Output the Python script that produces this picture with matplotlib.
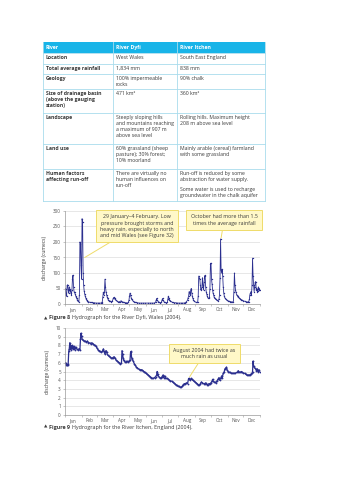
import matplotlib.pyplot as plt
from matplotlib.patches import Rectangle

plt.rcParams['font.family'] = ['Open Sans', 'DejaVu Sans']

# ---- table contents ----
table_header = ['River', 'River Dyfi', 'River Itchen']
row_labels = ['Location', 'Total average rainfall', 'Geology',
              'Size of drainage basin\n(above the gauging\nstation)',
              'Landscape', 'Land use', 'Human factors\naffecting run-off']
dyfi_facts = ['West Wales', '1,834 mm', '100% impermeable\nrocks', '471 km²',
              'Steeply sloping hills\nand mountains reaching\na maximum of 907 m\nabove sea level',
              '60% grassland (sheep\npasture); 30% forest;\n10% moorland',
              'There are virtually no\nhuman influences on\nrun-off']
itchen_facts = ['South East England', '838 mm', '90% chalk', '360 km²',
                'Rolling hills. Maximum height\n208 m above sea level',
                'Mainly arable (cereal) farmland\nwith some grassland',
                'Run-off is reduced by some\nabstraction for water supply.']
itchen_extra = 'Some water is used to recharge\ngroundwater in the chalk aquifer'

# ---- hydrograph data (day of year, discharge in cumecs) ----
dyfi_day = [1, 2, 3, 4, 5, 6, 7, 8, 9, 10, 11, 12, 13, 14, 15, 16, 17, 18, 19, 20,
            21, 22, 23, 24, 25, 26, 27, 28, 29, 30, 31, 32, 33, 34, 35, 36, 37, 38, 39, 40,
            41, 42, 43, 44, 46, 48, 50, 52, 55, 58, 61, 64, 67, 69, 70, 71, 72, 73, 74, 75,
            76, 77, 78, 79, 80, 81, 83, 85, 87, 89, 91, 92, 93, 94, 95, 97, 99, 101, 103, 105,
            106, 107, 109, 111, 113, 115, 117, 119, 120, 121, 122, 123, 124, 125, 127, 129, 131, 133, 136, 139,
            143, 147, 151, 155, 159, 163, 167, 170, 171, 172, 173, 175, 177, 179, 181, 182, 183, 184, 186, 188,
            190, 192, 193, 194, 195, 196, 198, 200, 202, 205, 208, 211, 214, 217, 220, 223, 226, 228, 230, 231,
            232, 233, 234, 235, 236, 237, 238, 239, 240, 241, 243, 245, 247, 249, 250, 251, 252, 253, 254, 255,
            256, 257, 258, 259, 260, 261, 262, 263, 264, 265, 266, 267, 268, 270, 271, 272, 273, 274, 275, 276,
            277, 278, 279, 280, 281, 283, 285, 287, 289, 290, 291, 292, 293, 294, 295, 296, 297, 298, 299, 300,
            302, 304, 306, 308, 310, 312, 314, 316, 317, 318, 319, 320, 321, 322, 323, 324, 325, 327, 329, 331,
            333, 335, 337, 339, 341, 343, 345, 346, 347, 348, 349, 350, 351, 352, 353, 354, 355, 356, 357, 358,
            359, 360, 361, 362, 363, 364, 365, 366]
dyfi_flow = [50, 28, 25, 60, 62, 45, 35, 55, 42, 48, 35, 30, 45, 82, 93, 55, 40, 38, 32, 27,
             22, 18, 14, 11, 9, 8, 30, 200, 195, 125, 80, 275, 265, 100, 60, 42, 32, 25, 20, 15,
             12, 10, 8, 7, 6, 5, 5, 4, 4, 3, 3, 3, 3, 4, 8, 22, 38, 30, 40, 80,
             55, 40, 30, 24, 18, 14, 11, 9, 8, 10, 20, 21, 18, 15, 13, 10, 8, 6, 8, 10,
             9, 7, 6, 5, 4, 4, 3, 5, 12, 25, 35, 28, 20, 15, 11, 8, 6, 5, 4, 3,
             3, 3, 3, 3, 3, 3, 3, 5, 12, 18, 12, 8, 5, 4, 6, 12, 18, 12, 7, 5,
             4, 5, 15, 25, 20, 14, 10, 7, 5, 4, 4, 3, 3, 3, 3, 3, 4, 8, 12, 20,
             25, 40, 38, 30, 45, 50, 35, 25, 18, 13, 9, 6, 5, 5, 25, 90, 85, 80, 60, 45,
             48, 55, 85, 60, 45, 70, 90, 92, 55, 40, 32, 25, 20, 18, 22, 50, 130, 132, 80, 65,
             45, 35, 28, 22, 18, 15, 12, 10, 15, 30, 85, 210, 110, 100, 112, 90, 55, 35, 25, 20,
             15, 12, 10, 9, 8, 7, 6, 8, 40, 100, 62, 45, 38, 30, 28, 25, 22, 20, 17, 14,
             12, 10, 9, 8, 7, 6, 8, 15, 30, 35, 40, 30, 60, 148, 90, 60, 40, 55, 70, 72,
             45, 50, 40, 42, 55, 45, 50, 45]

itchen_day = [1, 2, 3, 4, 5, 6, 7, 8, 9, 10, 11, 12, 13, 14, 15, 16, 17, 18, 19, 20,
              22, 24, 26, 28, 29, 30, 31, 32, 34, 36, 38, 40, 42, 44, 46, 48, 50, 52, 54, 56,
              58, 60, 62, 64, 66, 68, 70, 72, 73, 75, 77, 78, 80, 82, 84, 86, 88, 90, 92, 94,
              96, 98, 100, 102, 104, 106, 107, 108, 109, 110, 112, 114, 116, 118, 120, 122, 123, 124, 125, 126,
              128, 130, 132, 134, 136, 138, 140, 142, 144, 146, 148, 150, 152, 154, 156, 158, 160, 162, 164, 166,
              168, 170, 172, 173, 174, 176, 178, 180, 182, 184, 185, 187, 188, 190, 192, 194, 196, 198, 200, 202,
              204, 206, 208, 210, 212, 214, 216, 218, 220, 222, 224, 226, 228, 230, 232, 233, 235, 237, 238, 240,
              242, 244, 246, 248, 250, 252, 254, 256, 258, 260, 262, 264, 266, 268, 270, 272, 274, 276, 277, 279,
              281, 283, 285, 287, 289, 290, 292, 294, 295, 297, 299, 300, 302, 303, 304, 306, 308, 310, 312, 314,
              316, 318, 320, 322, 324, 325, 327, 329, 331, 333, 335, 337, 339, 341, 343, 345, 347, 349, 351, 352,
              353, 354, 356, 358, 359, 360, 361, 362, 363, 364, 366]
itchen_flow = [6.0, 5.8, 5.7, 5.7, 5.8, 5.9, 7.3, 7.6, 8.3, 8.0, 7.5, 7.8, 8.0, 7.7, 7.6, 7.9, 7.8, 7.5, 7.7, 7.8,
               7.6, 7.5, 7.6, 7.5, 8.7, 9.4, 9.1, 8.7, 8.6, 8.5, 8.5, 8.4, 8.5, 8.3, 8.3, 8.2, 8.3, 8.2, 8.1, 8.0,
               7.9, 7.7, 7.5, 7.4, 7.3, 7.2, 7.3, 7.6, 7.3, 7.0, 7.4, 7.2, 6.9, 6.8, 6.7, 6.6, 6.5, 6.6, 6.7, 6.5,
               6.3, 6.2, 6.1, 6.0, 5.9, 6.0, 7.4, 7.0, 6.6, 6.3, 6.1, 6.1, 6.2, 6.1, 6.2, 6.3, 7.2, 7.3, 6.6, 6.4,
               6.2, 5.9, 5.7, 5.5, 5.4, 5.3, 5.2, 5.2, 5.2, 5.1, 5.0, 4.9, 4.8, 4.7, 4.6, 4.5, 4.4, 4.3, 4.2, 4.2,
               4.3, 4.4, 4.6, 5.0, 4.7, 4.4, 4.3, 4.2, 4.4, 4.6, 4.3, 4.5, 4.3, 4.2, 4.2, 4.1, 4.0, 3.9, 3.9, 3.8,
               3.7, 3.6, 3.5, 3.4, 3.3, 3.3, 3.2, 3.2, 3.3, 3.5, 3.6, 3.6, 3.7, 3.6, 4.2, 4.1, 4.0, 4.2, 4.1, 4.0,
               3.9, 3.8, 3.7, 3.6, 3.5, 3.4, 3.6, 3.8, 3.7, 3.6, 3.6, 3.7, 3.5, 3.5, 3.6, 3.6, 3.7, 3.9, 4.1, 3.8,
               3.8, 3.7, 3.9, 4.1, 4.3, 4.0, 4.2, 4.5, 4.3, 4.8, 5.0, 5.3, 5.4, 5.5, 5.2, 5.0, 4.9, 4.9, 4.8, 4.8,
               4.8, 4.8, 4.8, 4.9, 4.9, 5.1, 4.9, 4.9, 5.0, 4.9, 4.8, 4.8, 4.7, 4.6, 4.6, 4.6, 4.6, 4.7, 4.8, 5.0,
               6.2, 5.6, 5.4, 5.3, 5.1, 5.2, 5.3, 5.0, 5.1, 5.2, 5.0]

months = ['Jan', 'Feb', 'Mar', 'Apr', 'May', 'Jun', 'Jul', 'Aug', 'Sep', 'Oct', 'Nov', 'Dec']
month_start = [0, 31, 60, 91, 121, 152, 182, 213, 244, 274, 305, 335, 366]

dyfi_yticks = [0, 50, 100, 150, 200, 250, 300]
itchen_yticks = [0, 1, 2, 3, 4, 5, 6, 7, 8, 9, 10]

W, H = 354, 500
LINE = '#2b2f8f'
TEXT = '#3a3a3a'
CYAN = '#18b4e8'
GRID_CYAN = '#a8dcec'
NOTE_FC = '#fff8c8'
NOTE_EC = '#efdc6a'

fig = plt.figure(figsize=(W / 100, H / 100), dpi=100)
fig.patch.set_facecolor('white')

# overlay axes in pixel coordinates for the table and captions
page = fig.add_axes([0, 0, 1, 1])
page.set_xlim(0, W)
page.set_ylim(H, 0)
page.axis('off')

cols = [43, 113, 177, 265]
rows = [42, 53, 64, 74, 89, 113, 144, 169, 201]
fs_tab = 3.7

page.add_patch(Rectangle((cols[0], rows[0]), cols[-1] - cols[0], rows[1] - rows[0],
                         fc=CYAN, ec='none', zorder=1))
for y in rows[1:]:
    page.plot([cols[0], cols[-1]], [y, y], color=GRID_CYAN, lw=0.6, zorder=2)
for x in cols:
    page.plot([x, x], [rows[0], rows[-1]], color=GRID_CYAN, lw=0.6, zorder=2)

for i, h in enumerate(table_header):
    page.text(cols[i] + 2.5, rows[0] + 5.6, h, color='white', fontsize=fs_tab,
              fontweight='bold', va='center', ha='left', zorder=3)

for r in range(len(row_labels)):
    top = rows[r + 1] + 2.2
    page.text(cols[0] + 2.5, top, row_labels[r], color=TEXT, fontsize=fs_tab,
              fontweight='bold', va='top', ha='left', linespacing=1.25, zorder=3)
    page.text(cols[1] + 2.5, top, dyfi_facts[r], color=TEXT, fontsize=fs_tab,
              va='top', ha='left', linespacing=1.25, zorder=3)
    page.text(cols[2] + 2.5, top, itchen_facts[r], color=TEXT, fontsize=fs_tab,
              va='top', ha='left', linespacing=1.25, zorder=3)
page.text(cols[2] + 2.5, rows[7] + 17.5, itchen_extra, color=TEXT, fontsize=fs_tab,
          va='top', ha='left', linespacing=1.25, zorder=3)


def caption(y, label, rest):
    # bold figure label followed by the plain caption, placed one after another
    renderer = fig.canvas.get_renderer()
    x = 44
    for txt, weight, size in [('▲', 'normal', 3.2), (label, 'bold', 3.9), (rest, 'normal', 3.9)]:
        t = page.text(x, y, txt, color=TEXT, fontsize=size, fontweight=weight,
                      va='center', ha='left')
        bb = t.get_window_extent(renderer=renderer)
        x_end = page.transData.inverted().transform((bb.x1, bb.y0))[0]
        x = x_end + 1.6


caption(318, 'Figure 8', 'Hydrograph for the River Dyfi, Wales (2004).')
caption(427, 'Figure 9', 'Hydrograph for the River Itchen, England (2004).')


def style_axes(ax, yticks):
    ax.set_xlim(0, 366)
    ax.set_ylim(yticks[0], yticks[-1])
    ax.set_yticks(yticks)
    ax.set_xticks(month_start)
    ax.set_xticklabels([])
    mids = [(month_start[i] + month_start[i + 1]) / 2 for i in range(12)]
    ax.set_xticks(mids, minor=True)
    ax.set_xticklabels(months, minor=True)
    ax.tick_params(axis='x', which='major', length=1.5, width=0.4, color='#999999')
    ax.tick_params(axis='x', which='minor', length=0, labelsize=3.3, labelcolor='#555555', pad=2.5)
    ax.tick_params(axis='y', length=1.5, width=0.4, color='#999999', labelsize=3.3,
                   labelcolor='#555555', pad=1.5)
    ax.grid(axis='y', color='#dddddd', lw=0.5)
    ax.set_axisbelow(True)
    for s in ['top', 'right']:
        ax.spines[s].set_visible(False)
    for s in ['left', 'bottom']:
        ax.spines[s].set_color('#999999')
        ax.spines[s].set_linewidth(0.5)
    ax.set_ylabel('discharge (cumecs)', fontsize=3.6, color=TEXT, labelpad=4)


note_box = dict(boxstyle='square,pad=0.8', fc=NOTE_FC, ec=NOTE_EC, lw=0.7)
note_arrow = dict(arrowstyle='-', color=NOTE_EC, lw=0.7, shrinkA=0, shrinkB=0)

# Figure 8: River Dyfi
ax1 = fig.add_axes([65 / W, 1 - 304 / H, 195 / W, 93 / H])
ax1.plot(dyfi_day, dyfi_flow, color=LINE, lw=0.6, marker='o', ms=1.0, mew=0)
style_axes(ax1, dyfi_yticks)
ax1.annotate('29 January–4 February. Low\npressure brought storms and\nheavy rain, especially to north\nand mid Wales (see Figure 32)',
             xy=(37, 150), xytext=(0.369, 0.837), textcoords='axes fraction',
             ha='center', va='center', fontsize=3.8, color=TEXT, linespacing=1.3,
             bbox=note_box, arrowprops=note_arrow)
ax1.annotate('October had more than 1.5\ntimes the average rainfall',
             xy=(293, 213), xytext=(0.816, 0.904), textcoords='axes fraction',
             ha='center', va='center', fontsize=3.8, color=TEXT, linespacing=1.3,
             bbox=note_box, arrowprops=note_arrow)

# Figure 9: River Itchen
ax2 = fig.add_axes([65 / W, 1 - 415 / H, 195 / W, 87 / H])
ax2.plot(itchen_day, itchen_flow, color=LINE, lw=0.9, marker='o', ms=1.3, mew=0)
style_axes(ax2, itchen_yticks)
ax2.annotate('August 2004 had twice as\nmuch rain as usual',
             xy=(234, 4.4), xytext=(0.716, 0.708), textcoords='axes fraction',
             ha='center', va='center', fontsize=3.8, color=TEXT, linespacing=1.3,
             bbox=note_box, arrowprops=note_arrow)

fig.savefig('out.png', dpi=100)
